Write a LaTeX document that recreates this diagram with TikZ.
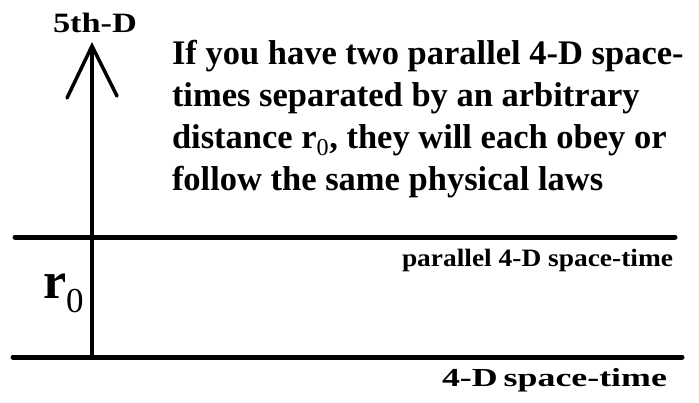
\documentclass[tikz,border=0pt]{standalone}
\usepackage{fontspec}
\usepackage{graphicx}
\setmainfont{Liberation Serif}
\tikzset{
  thickline/.style={line width=5pt, line cap=round},
  axisline/.style={line width=3.5pt},
  headline/.style={line width=3.5pt, line cap=round, line join=miter},
  lbl/.style={anchor=base west, inner sep=0pt, outer sep=0pt},
}
\begin{document}
\begin{tikzpicture}[x=1pt,y=-1pt]
\useasboundingbox (0,0) rectangle (699,402);
% horizontal space-times
\coordinate (ul) at (15,237);
\coordinate (ur) at (675,237);
\coordinate (bl) at (13,357);
\coordinate (br) at (682,357);
\draw[thickline] (ul) -- (ur);
\draw[thickline] (bl) -- (br);
% 5th dimension axis
\coordinate (base) at (92,357);
\coordinate (tip) at (92,46);
\coordinate (al) at (67,98);
\coordinate (ar) at (117,96);
\draw[axisline] (base) -- (tip);
\draw[headline] (al) -- (tip) -- (ar);
% labels
\node[lbl] (fifth) at (53,32) {\resizebox{84pt}{\height}{\fontsize{28}{28}\selectfont\bfseries 5th-D}};
\node[lbl] (text) at (172,64) {\fontsize{34.5}{42}\selectfont\bfseries
  \begin{tabular}[t]{@{}l@{}}
  If you have two parallel 4-D space-\\
  times separated by an arbitrary\\
  distance r\textsubscript{\mdseries 0}, they will each obey or\\
  follow the same physical laws
  \end{tabular}};
\node[lbl] (r0) at (43,298) {\fontsize{52}{52}\selectfont\bfseries r\raisebox{-14pt}{\fontsize{35}{35}\selectfont\mdseries 0}};
\node[lbl] (par) at (402,266) {\resizebox{271pt}{\height}{\fontsize{25}{25}\selectfont\bfseries parallel 4-D space-time}};
\node[lbl] (four) at (442,386) {\resizebox{225pt}{\height}{\fontsize{26}{26}\selectfont\bfseries 4-D\,space-time}};
\end{tikzpicture}
\end{document}
